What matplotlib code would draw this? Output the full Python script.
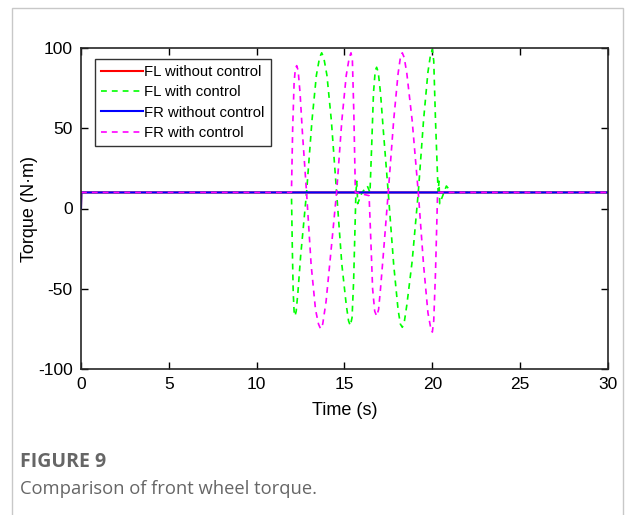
import matplotlib
matplotlib.use('Agg')
import matplotlib.pyplot as plt
from matplotlib.patches import Rectangle

# time (s) and torque (N·m)
t_base = [0, 0.02, 30]
fl_base = [0, 10, 10]
fr_base = [0, 10, 10]

t_fl = [0, 11.98, 12.03, 12.08, 12.13, 12.18, 12.25, 12.35, 12.5, 12.84, 13.15,
        13.4, 13.58, 13.7, 13.82, 14.0, 14.25, 14.55, 14.85, 15.1, 15.23, 15.33,
        15.43, 15.52, 15.65, 15.7, 15.75, 16.0, 16.3, 16.45, 16.55, 16.65, 16.75,
        16.83, 16.92, 17.05, 17.2, 17.49, 17.8, 18.05, 18.18, 18.29, 18.4, 18.55,
        18.85, 19.2, 19.5, 19.75, 19.9, 20.0, 20.08, 20.18, 20.33, 20.38, 20.42,
        20.8, 21.1, 30]
fl_ctrl = [10, 10, -25, -52, -64, -67, -64, -52, -30, 10, 55,
           83, 94, 97, 94, 83, 55, 10, -35, -60, -70, -73,
           -68, -45, 10, 17, 3, 10, 14, 10, 40, 72, 86,
           88, 85, 72, 50, 10, -35, -63, -72, -74, -71, -60,
           -33, 10, 55, 85, 96, 99, 92, 55, 10, 17, 3,
           14, 10, 10]

t_fr = [0, 11.98, 12.05, 12.13, 12.2, 12.28, 12.36, 12.47, 12.6, 12.84, 13.1,
        13.35, 13.52, 13.64, 13.76, 13.95, 14.2, 14.55, 14.85, 15.1, 15.27, 15.37,
        15.45, 15.53, 15.62, 16.4, 16.5, 16.6, 16.72, 16.83, 16.94, 17.05, 17.2,
        17.49, 17.8, 18.05, 18.18, 18.29, 18.4, 18.55, 18.85, 19.2, 19.5, 19.75,
        19.9, 20.0, 20.08, 20.18, 20.3, 30]
fr_ctrl = [10, 10, 50, 78, 87, 89, 86, 72, 48, 10, -35,
           -63, -72, -75, -72, -58, -30, 10, 55, 83, 94, 97,
           92, 60, 10, 8, -20, -50, -64, -67, -63, -50, -30,
           10, 55, 84, 94, 97, 94, 84, 55, 10, -35, -65,
           -74, -77, -70, -40, 10, 10]

x_ticks = [0, 5, 10, 15, 20, 25, 30]
y_ticks = [-100, -50, 0, 50, 100]

plt.rcParams['font.family'] = ['Liberation Sans', 'DejaVu Sans']
plt.rcParams['axes.unicode_minus'] = False

fig = plt.figure(figsize=(6.25, 5.15), dpi=100)

# card border
fig.patches.append(Rectangle((12 / 625, -0.1), (623 - 12) / 625, 1.1 - 8 / 515,
                             transform=fig.transFigure, fill=False,
                             edgecolor='#c8c8c8', linewidth=1.0))

ax = fig.add_axes([81 / 625, 1 - 369 / 515, 527 / 625, 321 / 515])

ax.plot(t_base, fl_base, color='#ff0000', lw=1.5, label='FL without control')
ax.plot(t_fl, fl_ctrl, color='#00ff00', lw=1.2, dashes=(3.5, 3),
        label='FL with control')
ax.plot(t_base, fr_base, color='#0000ff', lw=1.5, label='FR without control')
ax.plot(t_fr, fr_ctrl, color='#ff00ff', lw=1.2, dashes=(3.5, 3),
        label='FR with control')

ax.set_xlim(0, 30)
ax.set_ylim(-100, 100)
ax.set_xticks(x_ticks)
ax.set_yticks(y_ticks)
ax.tick_params(direction='in', top=True, right=True, length=5, width=1,
               labelsize=12.5, pad=6)
for s in ax.spines.values():
    s.set_linewidth(1.2)
    s.set_color('#262626')

ax.set_xlabel('Time (s)', fontsize=13, labelpad=7)
ax.set_ylabel('Torque (N·m)', fontsize=13, labelpad=0)

leg = ax.legend(loc='upper left', bbox_to_anchor=(0.027, 0.965), fontsize=10.7,
                frameon=True, fancybox=False, edgecolor='black',
                handlelength=2.8, handletextpad=0.1, borderpad=0.4,
                labelspacing=0.42, borderaxespad=0)
leg.get_frame().set_linewidth(1.0)

fig.text(20 / 625, 1 - 467 / 515, 'FIGURE 9', fontsize=14, fontweight='bold',
         color='#666666', family=['Open Sans', 'DejaVu Sans'])
fig.text(20 / 625, 1 - 494 / 515, 'Comparison of front wheel torque.',
         fontsize=13.2, color='#666666', family=['Open Sans', 'DejaVu Sans'])

fig.savefig('out.png', dpi=100)
